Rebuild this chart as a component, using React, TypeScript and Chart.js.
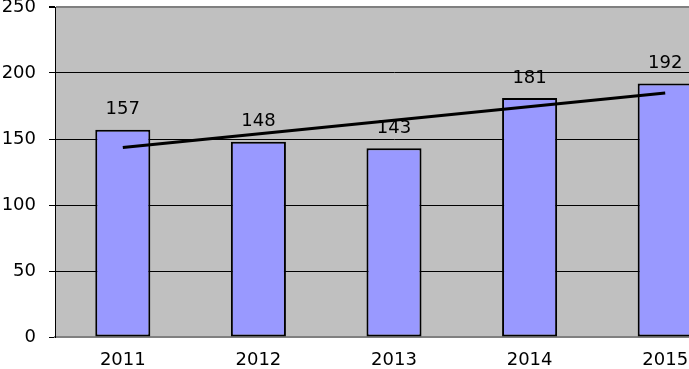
import React, { useEffect, useRef } from "react";
import { Chart, registerables } from "chart.js";

Chart.register(...registerables);

const categories = ["2011", "2012", "2013", "2014", "2015"];
const values = [157, 148, 143, 181, 192];
const trendValues: (number | null)[] = [143.6, null, null, null, 184.8];
const yTicks = [0, 50, 100, 150, 200, 250];

const FONT = "'DejaVu Sans', sans-serif";
const FSIZE = 18;

const labelPlugin = {
  id: "barLabels",
  afterDatasetsDraw(chart: any) {
    const ctx = chart.ctx;
    chart.data.datasets.forEach((ds: any, i: number) => {
      if (ds.type !== "bar") return;
      const meta = chart.getDatasetMeta(i);
      ctx.save();
      ctx.font = `${FSIZE}px ${FONT}`;
      ctx.fillStyle = "#000";
      ctx.textAlign = "center";
      ctx.textBaseline = "middle";
      meta.data.forEach((el: any, j: number) => {
        ctx.fillText(String(ds.data[j]), el.x, el.y - 20);
      });
      ctx.restore();
    });
  },
};

export default function App() {
  const ref = useRef<HTMLCanvasElement>(null);
  useEffect(() => {
    if (!ref.current) return;
    const chart = new Chart(ref.current, {
      type: "bar",
      data: {
        labels: categories,
        datasets: [
          {
            type: "line",
            data: trendValues,
            borderColor: "#000",
            borderWidth: 3,
            pointRadius: 0,
            spanGaps: true,
            tension: 0,
            order: 0,
          } as any,
          {
            type: "bar",
            data: values,
            backgroundColor: "#9999FF",
            borderColor: "#000",
            borderWidth: 2,
            borderSkipped: false,
            barPercentage: 0.406,
            categoryPercentage: 1,
            order: 1,
          } as any,
        ],
      },
      options: {
        animation: false,
        responsive: false,
        maintainAspectRatio: false,
        layout: { padding: { top: 7, right: 0, left: 0, bottom: 0 } },
        plugins: { legend: { display: false }, tooltip: { enabled: false } },
        scales: {
          x: {
            grid: { display: false, drawTicks: false },
            border: { display: true, color: "#808080", width: 2 },
            ticks: {
              color: "#000",
              font: { family: FONT, size: FSIZE },
              padding: 13,
              maxRotation: 0,
            },
            afterFit(scale: any) {
              scale.height = 32;
              scale.paddingLeft = 0;
              scale.paddingRight = 0;
            },
          },
          y: {
            min: 0,
            max: 250,
            afterBuildTicks(scale: any) {
              scale.ticks = yTicks.map((v) => ({ value: v }));
            },
            grid: {
              color: (c: any) =>
                c.tick && (c.tick.value === 250 || c.tick.value === 0) ? "#808080" : "#000",
              lineWidth: (c: any) => (c.tick && c.tick.value === 250 ? 2 : 1),
              tickColor: "#000",
              tickLength: 6,
              drawTicks: true,
            },
            border: { display: true, color: "#000", width: 1 },
            ticks: {
              color: "#000",
              font: { family: FONT, size: FSIZE },
              padding: 13,
            },
            afterFit(scale: any) {
              scale.width = 55;
              scale.paddingTop = 0;
              scale.paddingBottom = 0;
            },
          },
        },
      },
      plugins: [
        {
          id: "bg",
          beforeDraw(chart: any) {
            const { ctx, chartArea } = chart;
            ctx.save();
            ctx.fillStyle = "#fff";
            ctx.fillRect(0, 0, chart.width, chart.height);
            ctx.fillStyle = "#C0C0C0";
            ctx.fillRect(
              chartArea.left,
              chartArea.top,
              chartArea.right - chartArea.left,
              chartArea.bottom - chartArea.top
            );
            ctx.restore();
          },
        },
        labelPlugin,
      ],
    });
    return () => chart.destroy();
  }, []);
  return (
    <div
      style={{
        position: "fixed",
        left: 0,
        top: 0,
        width: 689,
        height: 369,
        overflow: "hidden",
        background: "#fff",
      }}
    >
      <canvas ref={ref} width={733} height={369} style={{ width: 733, height: 369, display: "block" }} />
    </div>
  );
}
